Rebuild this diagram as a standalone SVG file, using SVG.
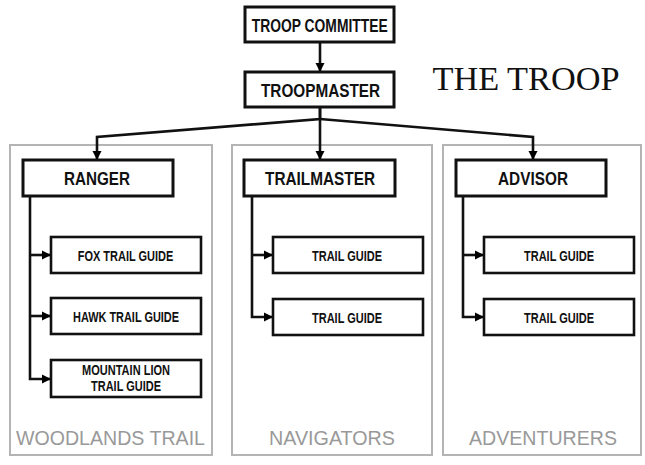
<svg xmlns="http://www.w3.org/2000/svg" width="645" height="465" viewBox="0 0 645 465">
<defs>
<marker id="arr" markerUnits="userSpaceOnUse" markerWidth="10" markerHeight="10" refX="9" refY="5" orient="auto">
<path d="M0,0.5 L9,5 L0,9.5 z" fill="#000"/>
</marker>
<style>
.grp{fill:none;stroke:#b4b4b4;stroke-width:2}
.glbl{font-family:"Liberation Sans",Arial,sans-serif;font-size:19.5px;fill:#999;text-anchor:middle}
.box{fill:#fff;stroke:#111;stroke-width:3}
.cbox{fill:#fff;stroke:#111;stroke-width:2.6}
.t{font-family:"Liberation Sans",Arial,sans-serif;font-weight:bold;font-size:18.5px;fill:#111;text-anchor:middle}
.ct{font-family:"Liberation Sans",Arial,sans-serif;font-weight:bold;font-size:13.8px;fill:#111;text-anchor:middle}
.ln{fill:none;stroke:#111;stroke-width:2.6}
</style>
</defs>
<rect width="645" height="465" fill="#fff"/>
<text x="526" y="90" font-family="'Liberation Serif','Times New Roman',serif" font-size="34" fill="#111" text-anchor="middle" textLength="187" lengthAdjust="spacingAndGlyphs">THE TROOP</text>

<g id="group-woodlands">
<rect class="grp" x="10" y="145" width="202" height="310"/>
<text class="glbl" x="110.5" y="445" textLength="189" lengthAdjust="spacingAndGlyphs">WOODLANDS TRAIL</text>
</g>
<g id="group-navigators">
<rect class="grp" x="232" y="145" width="200" height="310"/>
<text class="glbl" x="332" y="445" textLength="126" lengthAdjust="spacingAndGlyphs">NAVIGATORS</text>
</g>
<g id="group-adventurers">
<rect class="grp" x="443" y="145" width="198" height="310"/>
<text class="glbl" x="543" y="445" textLength="148" lengthAdjust="spacingAndGlyphs">ADVENTURERS</text>
</g>

<g id="connectors">
<line class="ln" x1="320" y1="42" x2="320" y2="72" marker-end="url(#arr)"/>
<path class="ln" d="M320,107 L320,119 L97,137 L97,160" marker-end="url(#arr)"/>
<path class="ln" d="M320,119 L533,137 L533,160" marker-end="url(#arr)"/>
<line class="ln" x1="320" y1="107" x2="320" y2="160" marker-end="url(#arr)"/>
<path class="ln" d="M30,196 L30,379 L51,379" marker-end="url(#arr)"/>
<line class="ln" x1="30" y1="255" x2="51" y2="255" marker-end="url(#arr)"/>
<line class="ln" x1="30" y1="316" x2="51" y2="316" marker-end="url(#arr)"/>
<path class="ln" d="M252,196 L252,317 L273,317" marker-end="url(#arr)"/>
<line class="ln" x1="252" y1="255" x2="273" y2="255" marker-end="url(#arr)"/>
<path class="ln" d="M463,196 L463,317 L484,317" marker-end="url(#arr)"/>
<line class="ln" x1="463" y1="255" x2="484" y2="255" marker-end="url(#arr)"/>
</g>

<g id="troop-committee">
<rect class="box" x="245" y="7" width="149" height="35"/>
<text class="t" x="319.7" y="31.7" textLength="136" lengthAdjust="spacingAndGlyphs">TROOP COMMITTEE</text>
</g>
<g id="troopmaster">
<rect class="box" x="245" y="72" width="149" height="35"/>
<text class="t" x="320.5" y="96.7" textLength="119" lengthAdjust="spacingAndGlyphs">TROOPMASTER</text>
</g>
<g id="ranger">
<rect class="box" x="23" y="160" width="150" height="36"/>
<text class="t" x="97" y="185" textLength="66" lengthAdjust="spacingAndGlyphs">RANGER</text>
</g>
<g id="trailmaster">
<rect class="box" x="244" y="160" width="151" height="36"/>
<text class="t" x="320" y="185" textLength="110" lengthAdjust="spacingAndGlyphs">TRAILMASTER</text>
</g>
<g id="advisor">
<rect class="box" x="456" y="160" width="150" height="36"/>
<text class="t" x="533" y="185" textLength="70" lengthAdjust="spacingAndGlyphs">ADVISOR</text>
</g>

<g id="fox-trail-guide">
<rect class="cbox" x="51" y="237" width="150" height="36"/>
<text class="ct" x="125.5" y="260.7" textLength="95.6" lengthAdjust="spacingAndGlyphs">FOX TRAIL GUIDE</text>
</g>
<g id="hawk-trail-guide">
<rect class="cbox" x="51" y="298" width="150" height="36"/>
<text class="ct" x="126" y="321.7" textLength="106" lengthAdjust="spacingAndGlyphs">HAWK TRAIL GUIDE</text>
</g>
<g id="mountain-lion-trail-guide">
<rect class="cbox" x="51" y="360" width="150" height="37"/>
<text class="ct" x="126" y="375" textLength="88" lengthAdjust="spacingAndGlyphs">MOUNTAIN LION</text>
<text class="ct" x="126" y="390.7" textLength="70" lengthAdjust="spacingAndGlyphs">TRAIL GUIDE</text>
</g>
<g id="nav-trail-guide-1">
<rect class="cbox" x="273" y="237" width="150" height="36"/>
<text class="ct" x="347" y="260.7" textLength="70" lengthAdjust="spacingAndGlyphs">TRAIL GUIDE</text>
</g>
<g id="nav-trail-guide-2">
<rect class="cbox" x="273" y="299" width="150" height="36"/>
<text class="ct" x="347" y="322.7" textLength="70" lengthAdjust="spacingAndGlyphs">TRAIL GUIDE</text>
</g>
<g id="adv-trail-guide-1">
<rect class="cbox" x="484" y="237" width="150" height="36"/>
<text class="ct" x="559" y="260.7" textLength="70" lengthAdjust="spacingAndGlyphs">TRAIL GUIDE</text>
</g>
<g id="adv-trail-guide-2">
<rect class="cbox" x="484" y="299" width="150" height="36"/>
<text class="ct" x="559" y="322.7" textLength="70" lengthAdjust="spacingAndGlyphs">TRAIL GUIDE</text>
</g>
</svg>
